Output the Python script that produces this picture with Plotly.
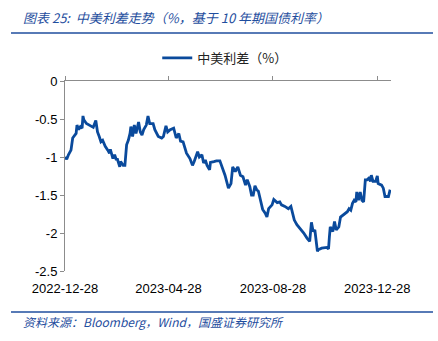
import plotly.graph_objects as go

dates = [
    "2022-12-28","2022-12-30","2023-01-01","2023-01-04","2023-01-06","2023-01-08","2023-01-10","2023-01-11",
    "2023-01-13","2023-01-15","2023-01-17","2023-01-18","2023-01-19","2023-01-22","2023-01-26","2023-01-30",
    "2023-02-02","2023-02-04","2023-02-06","2023-02-08","2023-02-10","2023-02-13","2023-02-16","2023-02-18",
    "2023-02-19","2023-02-22","2023-02-24","2023-02-26","2023-02-27","2023-03-02","2023-03-03","2023-03-06",
    "2023-03-08","2023-03-10","2023-03-12","2023-03-14","2023-03-15","2023-03-17","2023-03-19","2023-03-21",
    "2023-03-24","2023-03-26","2023-03-28","2023-03-30","2023-04-02","2023-04-04","2023-04-06","2023-04-10",
    "2023-04-12","2023-04-16","2023-04-20","2023-04-22","2023-04-25","2023-04-27","2023-04-30","2023-05-04",
    "2023-05-07","2023-05-10","2023-05-12","2023-05-15","2023-05-19","2023-05-23","2023-05-26","2023-05-28",
    "2023-06-01","2023-06-03","2023-06-06","2023-06-08","2023-06-10","2023-06-12","2023-06-15","2023-06-16",
    "2023-06-20","2023-06-23","2023-06-27","2023-06-29","2023-07-03","2023-07-07","2023-07-10","2023-07-12",
    "2023-07-15","2023-07-18","2023-07-21","2023-07-24","2023-07-27","2023-07-29","2023-08-01","2023-08-03",
    "2023-08-05","2023-08-07","2023-08-09","2023-08-11","2023-08-13","2023-08-16","2023-08-19","2023-08-21",
    "2023-08-23","2023-08-27","2023-08-29","2023-09-02","2023-09-05","2023-09-07","2023-09-11","2023-09-15",
    "2023-09-18","2023-09-20","2023-09-22","2023-09-25","2023-09-29","2023-10-03","2023-10-07","2023-10-10",
    "2023-10-12","2023-10-14","2023-10-16","2023-10-18","2023-10-19","2023-10-20","2023-10-24","2023-10-30",
    "2023-11-01","2023-11-02","2023-11-03","2023-11-06","2023-11-08","2023-11-10","2023-11-13","2023-11-15",
    "2023-11-18","2023-11-20","2023-11-23","2023-11-25","2023-11-27","2023-11-29","2023-12-01","2023-12-03",
    "2023-12-04","2023-12-06","2023-12-08","2023-12-10","2023-12-12","2023-12-14","2023-12-16","2023-12-18",
    "2023-12-20","2023-12-21","2023-12-23","2023-12-26","2023-12-28","2023-12-29","2024-01-02","2024-01-04",
    "2024-01-06","2024-01-10","2024-01-12",
]
spread = [
    -1.00,-1.03,-0.97,-0.91,-0.75,-0.71,-0.69,-0.58,
    -0.64,-0.60,-0.62,-0.46,-0.51,-0.56,-0.58,-0.61,
    -0.52,-0.67,-0.73,-0.80,-0.78,-0.86,-0.91,-0.95,
    -0.90,-1.02,-0.97,-1.04,-1.02,-1.13,-1.06,-1.11,
    -1.11,-0.84,-0.78,-0.69,-0.60,-0.73,-0.58,-0.69,
    -0.54,-0.67,-0.71,-0.64,-0.58,-0.46,-0.56,-0.56,
    -0.64,-0.73,-0.75,-0.73,-0.59,-0.67,-0.64,-0.62,
    -0.75,-0.69,-0.79,-0.80,-0.95,-1.02,-1.11,-1.06,
    -0.93,-1.00,-0.97,-1.08,-1.04,-1.11,-1.17,-1.07,
    -1.06,-1.05,-1.05,-1.11,-1.24,-1.41,-1.35,-1.13,
    -1.19,-1.13,-1.24,-1.26,-1.37,-1.30,-1.39,-1.50,
    -1.50,-1.38,-1.43,-1.45,-1.56,-1.69,-1.74,-1.79,
    -1.68,-1.63,-1.56,-1.60,-1.59,-1.63,-1.65,-1.68,
    -1.65,-1.74,-1.83,-1.89,-1.94,-2.00,-2.07,-2.11,
    -1.86,-1.98,-1.96,-2.20,-2.24,-2.22,-2.20,-2.19,
    -2.21,-2.05,-1.92,-1.98,-1.85,-1.96,-1.92,-1.79,
    -1.76,-1.74,-1.72,-1.68,-1.70,-1.61,-1.57,-1.59,
    -1.46,-1.57,-1.46,-1.57,-1.59,-1.30,-1.30,-1.28,
    -1.32,-1.24,-1.32,-1.32,-1.25,-1.35,-1.37,-1.41,
    -1.52,-1.52,-1.43,
]
x_ticks = ["2022-12-28", "2023-04-28", "2023-08-28", "2023-12-28"]
y_ticks = [0, -0.5, -1, -1.5, -2, -2.5]
x_range = ["2022-12-28", "2024-01-13"]

title_text = "图表 25:  中美利差走势（%，基于 10 年期国债利率）"
source_text = "资料来源：Bloomberg，Wind，国盛证券研究所"
series_name = "中美利差（%）"

LINE = "#0A4A9C"
BLUE = "#1F4E9E"
AXIS = "#8C8C8C"
FONT = "Liberation Sans, Arial, Noto Sans CJK SC, sans-serif"

fig = go.Figure()
fig.add_trace(go.Scatter(
    x=dates, y=spread, mode="lines", name=series_name,
    line=dict(color=LINE, width=2.8), xaxis="x", yaxis="y",
))
# invisible copy to carry the top axis line / ticks
fig.add_trace(go.Scatter(
    x=dates, y=spread, mode="lines", showlegend=False, hoverinfo="skip",
    line=dict(color="rgba(0,0,0,0)", width=0), xaxis="x2", yaxis="y",
))

fig.update_layout(
    width=438, height=341,
    margin=dict(l=65, r=47, t=81, b=70),
    paper_bgcolor="white", plot_bgcolor="white",
    font=dict(family=FONT, size=13, color="#000000"),
    showlegend=True,
    legend=dict(orientation="h", x=0.49, xanchor="center", y=1.121, yanchor="middle",
                font=dict(size=13, color="#222222", family="Noto Sans CJK SC, sans-serif"),
                bgcolor="rgba(0,0,0,0)", itemwidth=30, tracegroupgap=0),
    xaxis=dict(
        type="date", range=x_range, tickvals=x_ticks, ticktext=x_ticks,
        showline=False, showgrid=False, zeroline=False, ticks="",
        side="bottom", tickfont=dict(size=13, color="#000000"),
        ticklabelstandoff=8,
    ),
    xaxis2=dict(
        type="date", range=x_range, tickvals=x_ticks, overlaying="x",
        side="top", showline=True, linecolor=AXIS, linewidth=1,
        ticks="outside", ticklen=4, tickcolor=AXIS, showticklabels=False,
        showgrid=False, zeroline=False,
    ),
    yaxis=dict(
        range=[-2.5, 0], tickvals=y_ticks, ticktext=["0", "-0.5", "-1", "-1.5", "-2", "-2.5"],
        showline=True, linecolor=AXIS, linewidth=1, ticks="outside", ticklen=4,
        tickcolor=AXIS, showgrid=False, zeroline=False,
        tickfont=dict(size=13, color="#000000"),
    ),
    shapes=[
        dict(type="line", xref="paper", yref="paper", x0=-0.1656, x1=1.1288, y0=1.2526, y1=1.2526,
             line=dict(color=BLUE, width=1.5)),
        dict(type="line", xref="paper", yref="paper", x0=-0.1656, x1=1.1288, y0=-0.2158, y1=-0.2158,
             line=dict(color=BLUE, width=1.5)),
    ],
    annotations=[
        dict(text=title_text, xref="paper", yref="paper", x=-0.135, y=1.3316,
             xanchor="left", yanchor="middle", showarrow=False,
             font=dict(size=13, color=BLUE, family="Noto Sans CJK SC, sans-serif", style="italic")),
        dict(text=source_text, xref="paper", yref="paper", x=-0.135, y=-0.268,
             xanchor="left", yanchor="middle", showarrow=False,
             font=dict(size=12, color=BLUE, family="Noto Sans CJK SC, sans-serif", style="italic")),
    ],
)

fig.write_html("out.html")
